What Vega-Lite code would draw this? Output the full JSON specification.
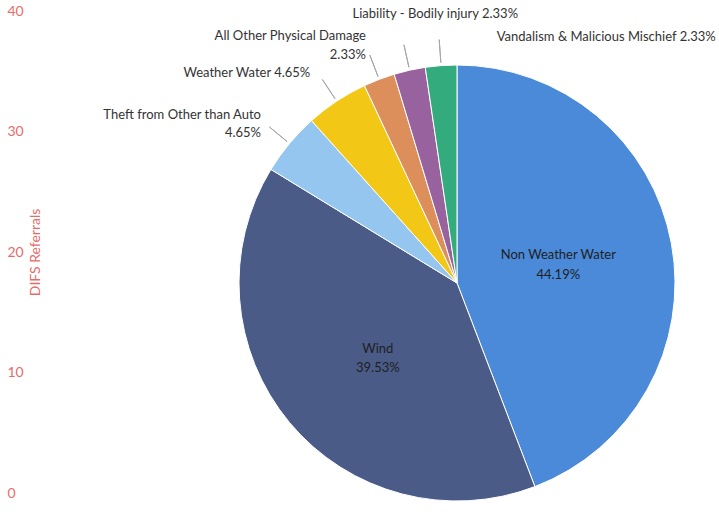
{
  "$schema": "https://vega.github.io/schema/vega-lite/v6.json",
  "width": 524,
  "height": 450,
  "autosize": {"type": "none"},
  "padding": {"left": 195, "top": 58, "right": 0, "bottom": 4},
  "background": "white",
  "config": {"view": {"stroke": null}, "font": "Lato"},
  "data": {
    "values": [
      {"cat": "Non Weather Water", "n": 19, "idx": 1, "label": "Non Weather Water\n44.19%"},
      {"cat": "Wind", "n": 17, "idx": 2, "label": "Wind\n39.53%"},
      {"cat": "Theft from Other than Auto", "n": 2, "idx": 3, "label": "Theft from Other than Auto\n4.65%"},
      {"cat": "Weather Water", "n": 2, "idx": 4, "label": "Weather Water 4.65%"},
      {"cat": "All Other Physical Damage", "n": 1, "idx": 5, "label": "All Other Physical Damage\n2.33%"},
      {"cat": "Liability - Bodily injury", "n": 1, "idx": 6, "label": "Liability - Bodily injury 2.33%"},
      {"cat": "Vandalism & Malicious Mischief", "n": 1, "idx": 7, "label": "Vandalism & Malicious Mischief 2.33%"}
    ]
  },
  "encoding": {
    "theta": {"field": "n", "type": "quantitative", "stack": true},
    "order": {"field": "idx", "type": "quantitative"}
  },
  "layer": [
    {
      "mark": {"type": "point", "opacity": 0},
      "encoding": {
        "theta": null,
        "order": null,
        "y": {
          "field": "n",
          "type": "quantitative",
          "scale": {"domain": [0, 40], "range": [435, -47], "nice": false},
          "axis": {
            "title": "DIFS Referrals",
            "offset": 155,
            "values": [0, 10, 20, 30, 40],
            "grid": false,
            "domain": false,
            "ticks": false,
            "labelAlign": "left",
            "labelPadding": 33,
            "labelFlush": false,
            "labelOverlap": false,
            "labelColor": "#e46c6a",
            "labelFontSize": 14,
            "labelFont": "Lato",
            "titleColor": "#e46c6a",
            "titleFontSize": 14,
            "titleFont": "Lato",
            "titleFontWeight": "normal",
            "titleAngle": -90,
            "titleAlign": "center",
            "titleBaseline": "bottom",
            "titleX": 2,
            "titleY": 194
          }
        }
      }
    },
    {
      "mark": {"type": "arc", "outerRadius": 218, "stroke": "#ffffff", "strokeWidth": 1},
      "encoding": {
        "color": {
          "field": "cat",
          "type": "nominal",
          "legend": null,
          "scale": {
            "domain": ["Non Weather Water", "Wind", "Theft from Other than Auto", "Weather Water", "All Other Physical Damage", "Liability - Bodily injury", "Vandalism & Malicious Mischief"],
            "range": ["#4a8ad9", "#4a5b88", "#95c6ef", "#f2c715", "#dc8f5a", "#97629e", "#33ab7c"]
          }
        }
      }
    },
    {
      "mark": {"type": "arc", "innerRadius": 221, "outerRadius": 244, "padAngle": 0.3, "fill": "transparent", "stroke": "#a6a6a6", "strokeWidth": 1},
      "encoding": {
        "strokeOpacity": {"condition": {"test": "datum.idx >= 3", "value": 1}, "value": 0}
      }
    },
    {
      "mark": {"type": "text", "radius": 103, "align": "center", "baseline": "middle", "lineBreak": "\n", "fontSize": 13, "color": "#1f1f1f", "lineHeight": 20, "dy": -9},
      "encoding": {
        "text": {"condition": {"test": "datum.idx == 1", "field": "label"}, "value": ""}
      }
    },
    {
      "mark": {"type": "text", "radius": 103, "align": "center", "baseline": "middle", "lineBreak": "\n", "fontSize": 13, "color": "#1f1f1f", "lineHeight": 19},
      "encoding": {
        "text": {"condition": {"test": "datum.idx == 2", "field": "label"}, "value": ""}
      }
    },
    {
      "mark": {"type": "text", "radius": 255, "align": "right", "baseline": "middle", "lineBreak": "\n", "fontSize": 13, "color": "#333333", "lineHeight": 18, "dy": -5},
      "encoding": {
        "text": {"condition": {"test": "datum.idx == 3", "field": "label"}, "value": ""}
      }
    },
    {
      "mark": {"type": "text", "radius": 255, "align": "right", "baseline": "middle", "fontSize": 13, "color": "#333333", "dx": -6, "dy": 3},
      "encoding": {
        "text": {"condition": {"test": "datum.idx == 4", "field": "label"}, "value": ""}
      }
    },
    {
      "mark": {"type": "text", "radius": 255, "align": "right", "baseline": "middle", "lineBreak": "\n", "fontSize": 13, "color": "#333333", "lineHeight": 19, "dy": -9},
      "encoding": {
        "text": {"condition": {"test": "datum.idx == 5", "field": "label"}, "value": ""}
      }
    },
    {
      "mark": {"type": "text", "radius": 270, "align": "center", "baseline": "middle", "dx": 37, "dy": -5, "fontSize": 13, "color": "#333333"},
      "encoding": {
        "text": {"condition": {"test": "datum.idx == 6", "field": "label"}, "value": ""}
      }
    },
    {
      "mark": {"type": "text", "radius": 250, "align": "left", "baseline": "middle", "dx": 58, "dy": 3, "fontSize": 13, "color": "#333333"},
      "encoding": {
        "text": {"condition": {"test": "datum.idx == 7", "field": "label"}, "value": ""}
      }
    }
  ]
}
